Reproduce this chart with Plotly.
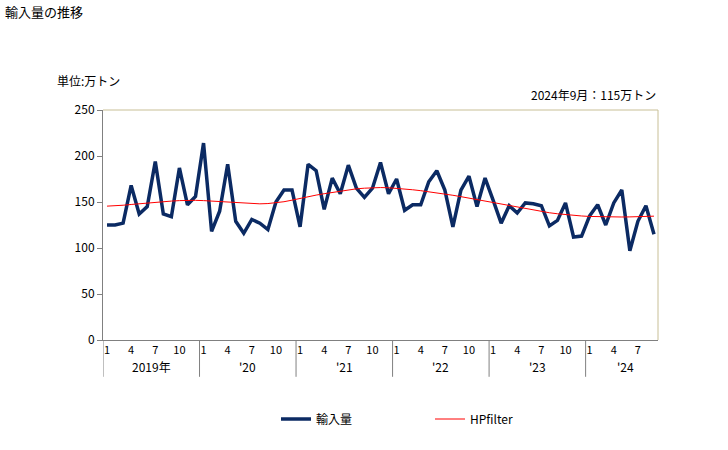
import plotly.graph_objects as go

years = [2019, 2020, 2021, 2022, 2023, 2024]
year_labels = ["2019年", "'20", "'21", "'22", "'23", "'24"]
months_per_year = [12, 12, 12, 12, 12, 9]
month_tick_labels = ["1", "4", "7", "10"]

imports_2019 = [125, 125, 127, 168, 137, 145, 194, 137, 134, 187, 147, 156]
imports_2020 = [214, 118, 140, 191, 129, 116, 131, 127, 120, 150, 163, 163]
imports_2021 = [123, 191, 184, 142, 176, 159, 190, 165, 155, 165, 193, 159]
imports_2022 = [175, 141, 147, 147, 172, 184, 163, 123, 163, 178, 145, 176]
imports_2023 = [152, 127, 146, 138, 149, 148, 146, 124, 130, 149, 112, 113]
imports_2024 = [135, 147, 125, 149, 163, 97, 129, 146, 115]

hp_2019 = [145.5, 145.8, 146.5, 147.3, 148.2, 149.0, 149.8, 150.5, 151.0, 151.5, 151.8, 151.8]
hp_2020 = [151.5, 151.0, 150.4, 149.8, 149.0, 148.3, 148.0, 148.0, 148.3, 149.0, 150.3, 152.0]
hp_2021 = [154.0, 155.8, 157.5, 159.0, 160.5, 162.0, 163.3, 164.3, 165.0, 165.5, 165.7, 165.5]
hp_2022 = [165.0, 164.2, 163.3, 162.3, 161.2, 160.0, 158.7, 157.3, 155.8, 154.2, 152.5, 150.8]
hp_2023 = [149.0, 147.3, 145.6, 144.0, 142.5, 141.0, 139.6, 138.3, 137.2, 136.2, 135.4, 134.8]
hp_2024 = [134.3, 134.0, 133.8, 133.7, 133.7, 133.8, 134.0, 134.3, 134.6]

imports = imports_2019 + imports_2020 + imports_2021 + imports_2022 + imports_2023 + imports_2024
hp = hp_2019 + hp_2020 + hp_2021 + hp_2022 + hp_2023 + hp_2024

# build month index / labels
xs, month_nums = [], []
i = 0
for y, n in zip(years, months_per_year):
    for m in range(1, n + 1):
        xs.append(i)
        month_nums.append(m)
        i += 1
tickvals = [x for x, m in zip(xs, month_nums) if str(m) in month_tick_labels]
ticktext = [str(m) for m in month_nums if str(m) in month_tick_labels]

FONT = "Noto Sans CJK JP"
fig = go.Figure()
fig.add_trace(go.Scatter(x=xs, y=imports, mode="lines", name="輸入量",
                         line=dict(color="#0b2a63", width=3.5)))
fig.add_trace(go.Scatter(x=xs, y=hp, mode="lines", name="HPfilter",
                         line=dict(color="#ff0000", width=1)))

n_total = len(xs)
# year separators and year labels
start = 0
shapes = []
annotations = []
for lab, n in zip(year_labels, months_per_year):
    shapes.append(dict(type="line", xref="x", yref="paper", x0=start - 0.5, x1=start - 0.5,
                       y0=0, y1=-0.16, line=dict(color="#808080", width=1)))
    annotations.append(dict(text=lab, xref="x", yref="paper", x=start + (n - 1) / 2 if n == 12 else start + 4.4,
                            y=-0.115, showarrow=False, font=dict(size=12, color="#000", family=FONT),
                            yanchor="middle"))
    start += n
# plot border top/right
shapes.append(dict(type="line", xref="paper", yref="paper", x0=0, x1=1, y0=1, y1=1,
                   line=dict(color="#c8bf96", width=1)))
shapes.append(dict(type="line", xref="paper", yref="paper", x0=1, x1=1, y0=0, y1=1,
                   line=dict(color="#c8bf96", width=1)))

annotations.append(dict(text="単位:万トン", xref="paper", yref="paper", x=(55 - 103) / 555, y=(340 - 80) / 230,
                        xanchor="left", yanchor="middle", showarrow=False,
                        font=dict(size=12, color="#000", family=FONT)))
annotations.append(dict(text="2024年9月：115万トン", xref="paper", yref="paper", x=1, y=(340 - 95) / 230,
                        xanchor="right", yanchor="middle", showarrow=False,
                        font=dict(size=12, color="#000", family=FONT)))

fig.update_layout(
    width=728, height=450,
    margin=dict(l=103, r=70, t=110, b=110),
    paper_bgcolor="white", plot_bgcolor="white",
    title=dict(text="輸入量の推移", xref="container", yref="container", x=5 / 728, y=1 - 12 / 450,
               xanchor="left", yanchor="middle", font=dict(size=13, color="#000", family=FONT)),
    xaxis=dict(range=[-0.5, n_total - 0.5], tickvals=tickvals, ticktext=ticktext, showgrid=False,
               showline=True, linecolor="#808080", ticks="", zeroline=False,
               tickfont=dict(size=11, color="#000", family=FONT)),
    yaxis=dict(range=[0, 250], dtick=50, showgrid=False, showline=True, linecolor="#808080",
               ticks="outside", ticklen=5, tickcolor="#808080", zeroline=False,
               tickfont=dict(size=12, color="#000", family=FONT)),
    legend=dict(orientation="h", xref="container", yref="container", x=276 / 728, y=1 - 419 / 450,
                xanchor="left", yanchor="middle", entrywidth=109, entrywidthmode="pixels",
                font=dict(size=12, color="#000", family=FONT)),
    shapes=shapes, annotations=annotations,
)
fig.write_html("out.html", config={"displayModeBar": False},
               post_script="document.body.style.margin='0';")
